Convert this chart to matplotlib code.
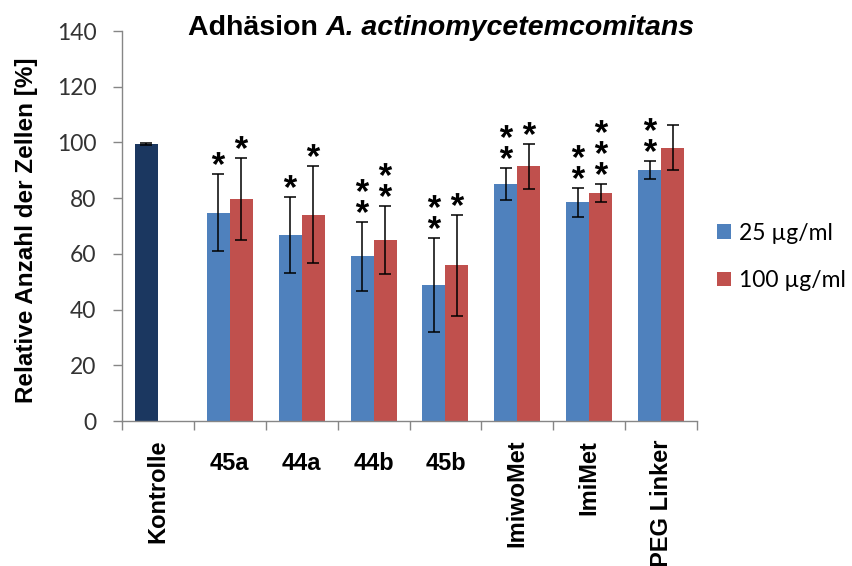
import numpy as np
import matplotlib
matplotlib.use("Agg")
import matplotlib.pyplot as plt
from matplotlib.patches import Patch
from matplotlib.path import Path
from matplotlib.textpath import TextPath
from matplotlib.font_manager import FontProperties
from matplotlib.transforms import offset_copy

# relative adhesion (% of control), mean and SD
groups = ['Kontrolle', '45a', '44a', '44b', '45b', 'ImiwoMet', 'ImiMet', 'PEG Linker']
kontrolle_val = 99.5
kontrolle_err = 0.3
val_25 = [74.8, 66.9, 59.1, 48.8, 85.1, 78.5, 90.2]
err_25 = [13.9, 13.6, 12.3, 16.9, 5.6, 5.2, 3.2]
val_100 = [79.8, 74.1, 65.0, 55.9, 91.5, 81.8, 98.1]
err_100 = [14.7, 17.5, 12.3, 18.1, 8.1, 3.3, 8.1]
# number of significance stars per bar
stars_25 = [1, 1, 2, 2, 2, 2, 2]
stars_100 = [1, 1, 2, 1, 1, 3, 0]
rotated = [True, False, False, False, False, True, True, True]
legend_labels = ['25 µg/ml', '100 µg/ml']

c_ctrl = '#1B3760'
c_25 = '#4F81BD'
c_100 = '#C0504D'
axis_grey = '#868686'
tick_font = 'Lato'
bold_font = 'Liberation Sans'

fig = plt.figure(figsize=(8.52, 5.66), dpi=100)
ax = fig.add_axes([122 / 852, 1 - 421 / 566, 575 / 852, 390 / 566])

w = 0.32
x = np.arange(1, len(groups))

ax.bar(0 - w / 2, kontrolle_val, w, color=c_ctrl, zorder=2)
ax.bar(x - w / 2, val_25, w, color=c_25, zorder=2)
ax.bar(x + w / 2, val_100, w, color=c_100, zorder=2)

eb = dict(fmt='none', ecolor='black', elinewidth=1.1, capsize=4.6, capthick=1.1, zorder=3)
ax.errorbar([0 - w / 2], [kontrolle_val], yerr=[kontrolle_err], **eb)
ax.errorbar(x - w / 2, val_25, yerr=err_25, **eb)
ax.errorbar(x + w / 2, val_100, yerr=err_100, **eb)

# asterisk marker built from the font glyph, centred on the origin
star_path = TextPath((0, 0), '*', size=10, prop=FontProperties(family=bold_font, weight='bold'))
verts = star_path.vertices.copy()
codes = star_path.codes.copy()
start = 0
for i, c in enumerate(codes):
    if c == Path.MOVETO:
        start = i
    elif c == Path.CLOSEPOLY:
        verts[i] = verts[start]
ext = Path(verts, codes).get_extents()
verts -= [(ext.x0 + ext.x1) / 2, (ext.y0 + ext.y1) / 2]
star = Path(verts, codes)


def put_stars(xs, vals, errs, counts):
    for xi, v, e, n in zip(xs, vals, errs, counts):
        for k in range(n):
            tr = offset_copy(ax.transData, fig=fig, x=0, y=11.5 + 15.2 * k, units='points')
            ax.plot([xi], [v + e], marker=star, ms=9.6, color='black', mew=0,
                    ls='none', transform=tr, zorder=4, clip_on=False)


put_stars(x - w / 2, val_25, err_25, stars_25)
put_stars(x + w / 2, val_100, err_100, stars_100)

ax.set_xlim(-0.5, len(groups) - 0.5)
ax.set_ylim(0, 140)
ax.set_yticks(np.arange(0, 141, 20))
ax.set_xticks(np.arange(-0.5, len(groups), 1.0))
ax.set_xticklabels([])
for s in ['top', 'right']:
    ax.spines[s].set_visible(False)
for s in ['left', 'bottom']:
    ax.spines[s].set_color(axis_grey)
    ax.spines[s].set_linewidth(1.0)
ax.tick_params(axis='both', direction='out', length=6.5, width=1.0, color=axis_grey)
ax.tick_params(axis='y', pad=12, labelsize=16.5, labelcolor='#333333')
for lab in ax.get_yticklabels():
    lab.set_fontfamily(tick_font)

# category labels: long names rotated, short ones horizontal
for i, (g, rot) in enumerate(zip(groups, rotated)):
    if rot:
        ax.annotate(g, xy=(i, 0), xycoords=('data', 'axes fraction'), xytext=(0, -13.5),
                    textcoords='offset points', rotation=90, ha='center', va='top',
                    fontsize=17, fontweight='bold', family=bold_font, annotation_clip=False)
    else:
        ax.annotate(g, xy=(i, 0), xycoords=('data', 'axes fraction'), xytext=(0, -22.5),
                    textcoords='offset points', ha='center', va='top',
                    fontsize=17, fontweight='bold', family=bold_font, annotation_clip=False)

fig.text(27 / 852, 1 - 230 / 566, 'Relative Anzahl der Zellen [%]', rotation=90,
         ha='center', va='center', fontsize=17.5, fontweight='bold', family=bold_font)

t1 = fig.text(188 / 852, 1 - 35 / 566, 'Adhäsion ', ha='left', va='baseline',
              fontsize=20.5, fontweight='bold', family=bold_font)
ax.annotate('A. actinomycetemcomitans', xy=(1, 0), xycoords=t1, ha='left', va='bottom',
            fontsize=20.5, fontweight='bold', fontstyle='italic', family=bold_font,
            annotation_clip=False)

handles = [Patch(facecolor=c_25), Patch(facecolor=c_100)]
fig.legend(handles, legend_labels, loc='center left', bbox_to_anchor=(717 / 852, 1 - 257 / 566),
           frameon=False, prop=FontProperties(family=tick_font, size=16.5),
           handlelength=0.62, handleheight=0.6, handletextpad=0.35, labelspacing=1.15,
           borderpad=0, borderaxespad=0)

fig.savefig('out.png', dpi=100)
